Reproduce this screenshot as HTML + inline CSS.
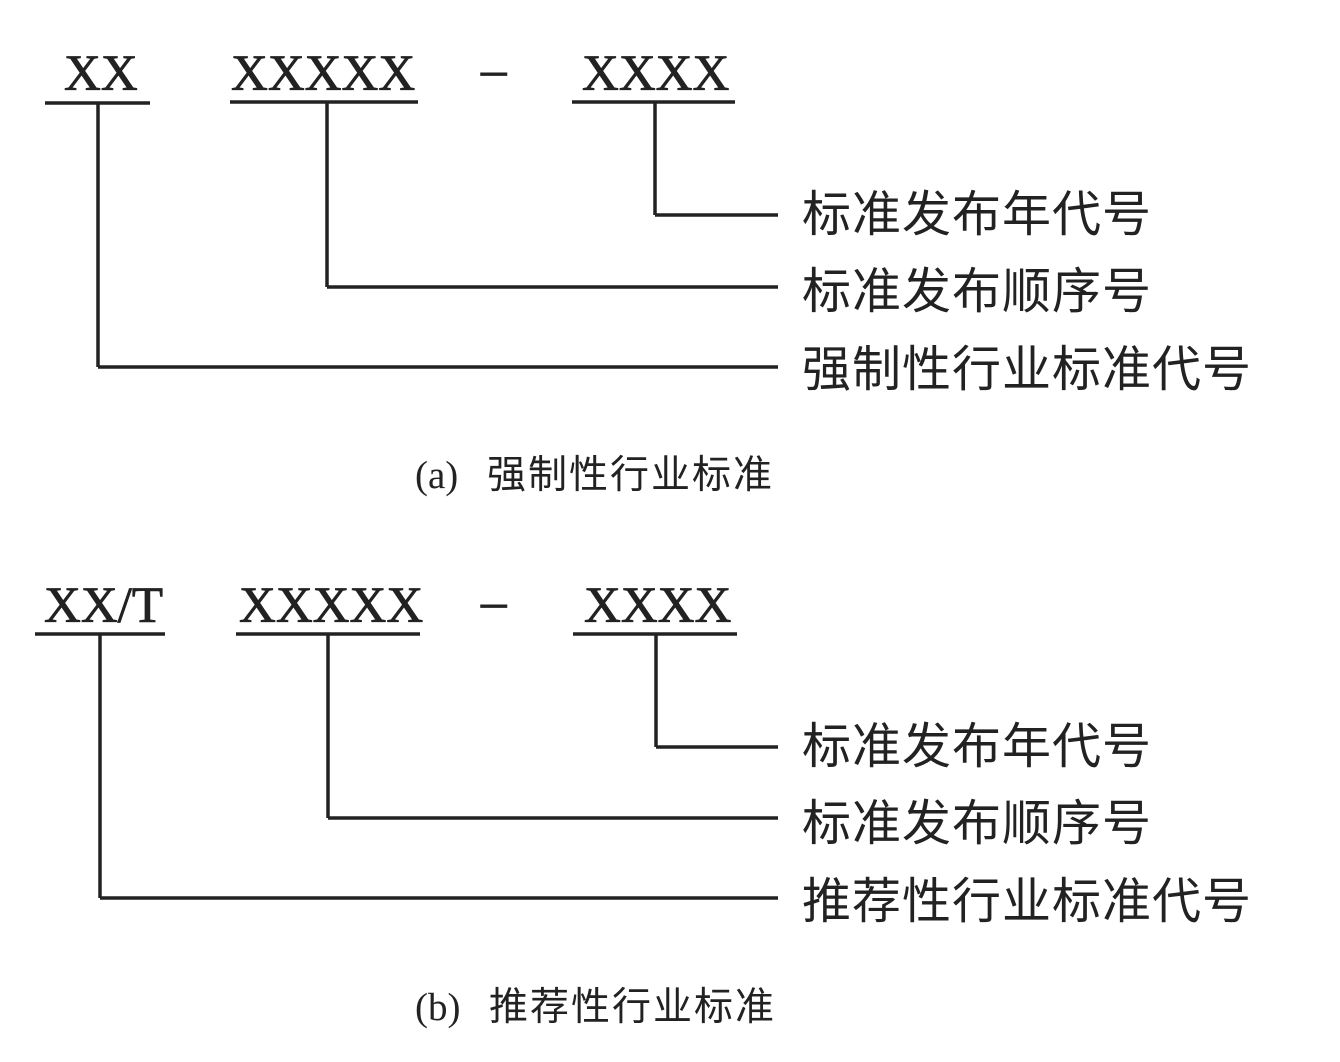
<!DOCTYPE html>
<html><head><meta charset="utf-8"><style>
html,body{margin:0;padding:0;background:#fff;}
svg{display:block}
.x{font-family:"Liberation Serif",serif;font-size:51px;fill:#222;stroke:#222;stroke-width:0.8}
.c{font-family:"Liberation Sans","Noto Sans CJK SC",sans-serif;font-size:49px;fill:#222;letter-spacing:1px}
.cap{font-family:"Liberation Serif","Noto Sans CJK SC",serif;font-size:39px;fill:#222}
.capc{font-family:"Liberation Sans","Noto Sans CJK SC",sans-serif;font-size:39px;fill:#222;letter-spacing:2px}
line{stroke:#222;stroke-width:3.5}
</style></head><body>
<svg width="1340" height="1062" viewBox="0 0 1340 1062">
<!-- (a) -->
<text class="x" x="64" y="90">XX</text>
<text class="x" x="231" y="90">XXXXX</text>
<text class="x" x="481" y="86">–</text>
<text class="x" x="582" y="90">XXXX</text>
<line x1="45" y1="103" x2="150" y2="103"/>
<line x1="230" y1="102" x2="418" y2="102"/>
<line x1="572" y1="102" x2="735" y2="102"/>
<line x1="98" y1="103" x2="98" y2="367"/>
<line x1="327" y1="102" x2="327" y2="287"/>
<line x1="655" y1="102" x2="655" y2="215"/>
<line x1="655" y1="215" x2="778" y2="215"/>
<line x1="327" y1="287" x2="778" y2="287"/>
<line x1="98" y1="367" x2="778" y2="367"/>
<text class="c" x="802" y="231">标准发布年代号</text>
<text class="c" x="802" y="308">标准发布顺序号</text>
<text class="c" x="802" y="386">强制性行业标准代号</text>
<text class="cap" x="415" y="488">(a)</text>
<text class="capc" x="487" y="488">强制性行业标准</text>
<!-- (b) -->
<text class="x" x="44" y="622">XX/T</text>
<text class="x" x="239" y="622">XXXXX</text>
<text class="x" x="481" y="618">–</text>
<text class="x" x="584" y="622">XXXX</text>
<line x1="35" y1="634" x2="165" y2="634"/>
<line x1="236" y1="634" x2="420" y2="634"/>
<line x1="573" y1="634" x2="737" y2="634"/>
<line x1="100" y1="634" x2="100" y2="898"/>
<line x1="328" y1="634" x2="328" y2="818"/>
<line x1="656" y1="634" x2="656" y2="747"/>
<line x1="656" y1="747" x2="778" y2="747"/>
<line x1="328" y1="818" x2="778" y2="818"/>
<line x1="100" y1="898" x2="778" y2="898"/>
<text class="c" x="802" y="763">标准发布年代号</text>
<text class="c" x="802" y="840">标准发布顺序号</text>
<text class="c" x="802" y="918">推荐性行业标准代号</text>
<text class="cap" x="415" y="1020">(b)</text>
<text class="capc" x="489" y="1020">推荐性行业标准</text>
</svg>
</body></html>
